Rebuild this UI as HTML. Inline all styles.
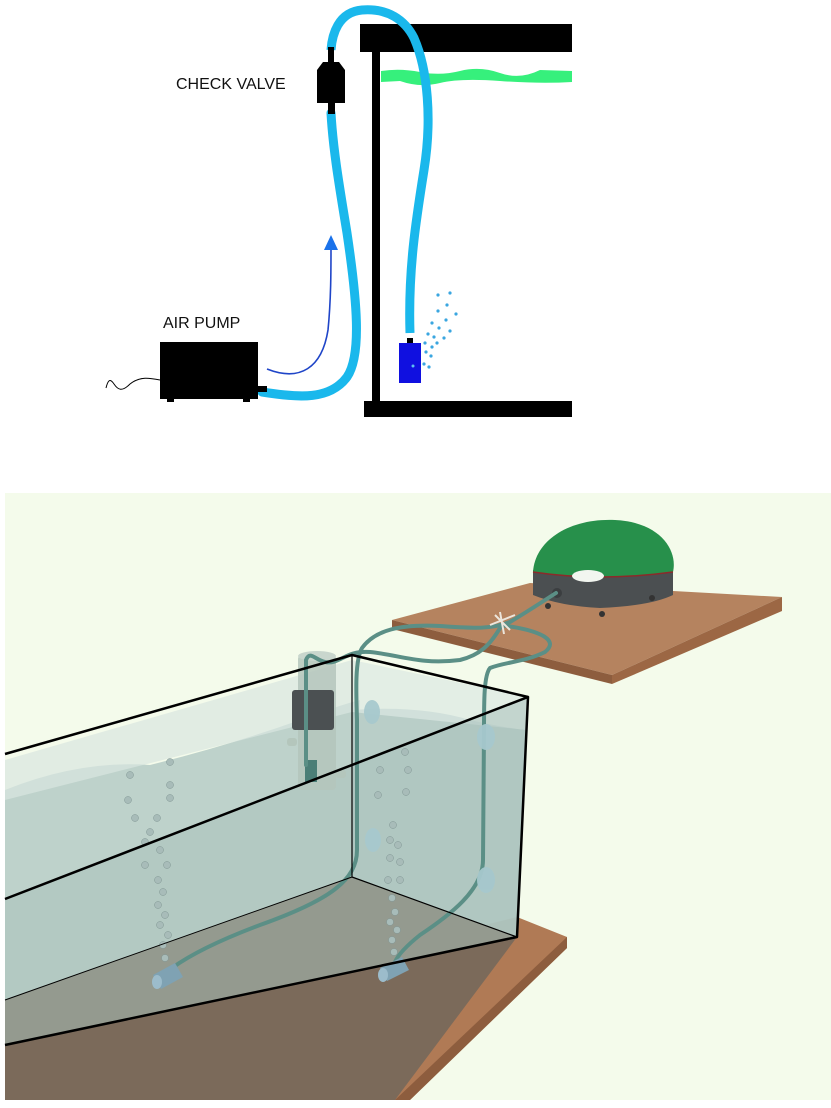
<!DOCTYPE html>
<html><head><meta charset="utf-8"><style>
html,body{margin:0;padding:0;background:#fff}
svg{display:block}
</style></head><body>
<svg width="831" height="1108" viewBox="0 0 831 1108" xmlns="http://www.w3.org/2000/svg">
<!-- TOP DIAGRAM -->
<rect x="360" y="24" width="212" height="28" fill="#000"/>
<rect x="372" y="48" width="8" height="357" fill="#000"/>
<rect x="364" y="401" width="208" height="16" fill="#000"/>
<path d="M381 71 Q400 68 420 72 T460 71 T500 73 T540 70 L572 71 L572 82 Q540 84 500 81 T440 83 T400 81 L381 82 Z" fill="#36f07c"/>
<!-- tube -->
<path d="M262 392 C300 398 330 400 347 377 C362 355 357 300 347 233 C340 190 333 150 331 113" fill="none" stroke="#1ab8ec" stroke-width="9" stroke-linecap="round"/>
<path d="M331 50 C332 35 338 12 362 10 C388 8 405 20 414 38 C428 70 432 120 424 170 C416 220 408 270 410 333" fill="none" stroke="#1ab8ec" stroke-width="9"/>
<!-- check valve -->
<rect x="328" y="47" width="6" height="16" fill="#000"/>
<path d="M323 62 L339 62 L345 70 L345 103 L317 103 L317 70 Z" fill="#000"/>
<rect x="328" y="102" width="7" height="12" fill="#000"/>
<text x="176" y="89" font-family="Liberation Sans, sans-serif" font-size="16" fill="#111">CHECK VALVE</text>
<!-- air pump -->
<rect x="160" y="342" width="98" height="57" fill="#000"/>
<rect x="167" y="398" width="7" height="4" fill="#000"/>
<rect x="243" y="398" width="7" height="4" fill="#000"/>
<rect x="257" y="386" width="10" height="6" fill="#000"/>
<path d="M160 380 C150 378 140 376 130 384 C122 392 118 390 114 384 C110 378 108 380 106 388" fill="none" stroke="#000" stroke-width="1"/>
<text x="163" y="328" font-family="Liberation Sans, sans-serif" font-size="16" fill="#111">AIR PUMP</text>
<!-- arrow -->
<path d="M267 369 C300 382 322 368 328 330 C331 300 331 270 331 248" fill="none" stroke="#1f45c8" stroke-width="1.6"/>
<path d="M331 235 L324 250 L338 250 Z" fill="#1a72ea"/>
<!-- airstone -->
<rect x="407" y="338" width="6" height="6" fill="#000"/>
<rect x="399" y="343" width="22" height="40" fill="#1010e0"/>
<circle cx="413" cy="366" r="1.5" fill="#5cc0f0"/>
<g fill="#3aa6e0">
<circle cx="438" cy="295" r="1.6"/><circle cx="450" cy="293" r="1.6"/><circle cx="447" cy="305" r="1.6"/><circle cx="438" cy="311" r="1.6"/><circle cx="456" cy="314" r="1.6"/><circle cx="432" cy="323" r="1.6"/><circle cx="446" cy="320" r="1.6"/><circle cx="439" cy="328" r="1.6"/><circle cx="450" cy="331" r="1.6"/><circle cx="428" cy="334" r="1.6"/><circle cx="434" cy="337" r="1.6"/><circle cx="444" cy="338" r="1.6"/><circle cx="425" cy="343" r="1.6"/><circle cx="432" cy="347" r="1.6"/><circle cx="437" cy="343" r="1.6"/><circle cx="426" cy="352" r="1.6"/><circle cx="431" cy="356" r="1.6"/><circle cx="424" cy="364" r="1.6"/><circle cx="429" cy="367" r="1.6"/>
</g>

<!-- BOTTOM ILLUSTRATION -->
<rect x="5" y="493" width="826" height="607" fill="#f4fbeb"/>
<!-- outer floor board -->
<path d="M5 1045 L517 917 L567 937 L567 948 L410 1100 L5 1100 Z" fill="#b07a55"/>
<path d="M567 937 L567 948 L410 1100 L395 1100 Z" fill="#8d5d3e"/>
<!-- tank floor -->
<path d="M5 1000 L352 877 L517 937 L395 1100 L5 1100 Z" fill="#7b6a5a"/>
<!-- water back walls -->
<path d="M5 790 Q80 760 150 765 Q230 745 300 720 Q340 705 360 700 L352 877 L5 1000 Z" fill="#b8cdc8" opacity="0.9"/>
<path d="M352 710 Q420 705 470 720 Q505 728 527 730 L517 937 L352 877 Z" fill="#b3c9c4" opacity="0.9"/>
<path d="M5 760 L352 660 L352 712 L5 800 Z" fill="#d8e6df" opacity="0.7"/>
<path d="M352 660 L528 697 L527 730 L352 712 Z" fill="#dce8e2" opacity="0.7"/>
<!-- front face water -->
<path d="M5 899 L528 697 L517 937 L5 1045 Z" fill="#a9c1bc" opacity="0.55"/>
<!-- filter -->
<rect x="298" y="655" width="38" height="135" rx="4" fill="#b4c6bc" opacity="0.85"/>
<ellipse cx="317" cy="656" rx="19" ry="5" fill="#c9d6cd"/>
<rect x="292" y="690" width="42" height="40" rx="3" fill="#4b5052"/>
<rect x="305" y="760" width="12" height="22" fill="#4b7e77"/>
<rect x="287" y="738" width="10" height="8" rx="3" fill="#b4c6bc"/>
<rect x="336" y="770" width="10" height="8" rx="3" fill="#b4c6bc"/>
<!-- bubbles -->
<g fill="#a8bcb9" stroke="#7f9592" stroke-width="0.5">
<circle cx="170" cy="762" r="3.5"/><circle cx="130" cy="775" r="3.5"/><circle cx="170" cy="785" r="3.5"/><circle cx="128" cy="800" r="3.5"/><circle cx="170" cy="798" r="3.5"/><circle cx="135" cy="818" r="3.5"/><circle cx="157" cy="818" r="3.5"/><circle cx="150" cy="832" r="3.5"/><circle cx="145" cy="842" r="3.5"/><circle cx="160" cy="850" r="3.5"/><circle cx="145" cy="865" r="3.5"/><circle cx="167" cy="865" r="3.5"/><circle cx="158" cy="880" r="3.5"/><circle cx="163" cy="892" r="3.5"/><circle cx="158" cy="905" r="3.5"/><circle cx="165" cy="915" r="3.5"/><circle cx="160" cy="925" r="3.5"/><circle cx="168" cy="935" r="3.5"/><circle cx="163" cy="945" r="3.5"/><circle cx="165" cy="958" r="3.5"/>
<circle cx="405" cy="752" r="3.5"/><circle cx="380" cy="770" r="3.5"/><circle cx="408" cy="770" r="3.5"/><circle cx="378" cy="795" r="3.5"/><circle cx="406" cy="792" r="3.5"/><circle cx="393" cy="825" r="3.5"/><circle cx="390" cy="840" r="3.5"/><circle cx="398" cy="845" r="3.5"/><circle cx="390" cy="858" r="3.5"/><circle cx="400" cy="862" r="3.5"/><circle cx="388" cy="880" r="3.5"/><circle cx="400" cy="880" r="3.5"/><circle cx="392" cy="898" r="3.5"/><circle cx="395" cy="912" r="3.5"/><circle cx="390" cy="922" r="3.5"/><circle cx="397" cy="930" r="3.5"/><circle cx="392" cy="940" r="3.5"/><circle cx="394" cy="952" r="3.5"/>
</g>
<!-- pump board -->
<path d="M392 620 L530 583 L782 597 L612 675 Z" fill="#b5835f"/>
<path d="M392 620 L612 675 L612 684 L392 629 Z" fill="#8d5d3e"/>
<path d="M612 675 L782 597 L782 611 L612 684 Z" fill="#9c6744"/>
<!-- pump -->
<path d="M533 570 L533 595 Q560 606 600 608 Q650 606 673 595 L673 570 Z" fill="#4b4f51"/>
<circle cx="548" cy="606" r="3" fill="#333"/><circle cx="602" cy="614" r="3" fill="#333"/><circle cx="652" cy="598" r="3" fill="#333"/>
<path d="M533 572 C535 540 570 518 615 520 C660 522 678 550 673 572 Q600 582 533 572 Z" fill="#27904b"/>
<path d="M533 572 Q600 582 673 572" fill="none" stroke="#8c2a2a" stroke-width="1.5"/>
<ellipse cx="588" cy="576" rx="16" ry="6" fill="#f2f6f0"/>
<circle cx="557" cy="593" r="5" fill="#3b3e40"/>
<!-- tubing -->
<g fill="none" stroke="#5b8f86" stroke-width="4" stroke-linecap="round">
<path d="M556 593 C545 600 530 610 510 622 C490 630 470 628 440 626 C400 624 375 630 362 648 C355 660 356 690 357 720 L357 850 C357 880 330 900 260 925 C220 940 190 955 172 968"/>
<path d="M500 625 C540 630 560 640 545 652 C525 662 505 662 490 668 C484 675 484 700 484 730 L483 860 C483 890 450 915 420 935 C405 947 398 955 395 962"/>
<path d="M500 628 C490 645 480 655 460 660 C420 665 400 655 370 652 C345 650 340 665 325 662 C315 660 310 650 306 660 L306 765"/>
</g>
<g stroke="#ece6dc" stroke-width="2"><path d="M495 615 L510 630 M490 625 L515 615 M500 612 L504 634"/></g>
<!-- suction cups -->
<g fill="#a6c8cd" opacity="0.95">
<ellipse cx="372" cy="712" rx="8" ry="12"/><ellipse cx="373" cy="840" rx="8" ry="12"/><ellipse cx="486" cy="737" rx="9" ry="13"/><ellipse cx="486" cy="880" rx="9" ry="13"/>
</g>
<!-- airstones -->
<g>
<path d="M153 975 L175 963 L183 977 L161 989 Z" fill="#7fa2b3"/><ellipse cx="157" cy="982" rx="5" ry="7" fill="#9cbccb"/>
<path d="M380 968 L402 957 L409 970 L387 981 Z" fill="#7fa2b3"/><ellipse cx="383" cy="975" rx="5" ry="7" fill="#9cbccb"/>
</g>
<!-- tank edges -->
<g stroke="#000" fill="none" stroke-linejoin="round">
<path d="M5 754 L352 655 L528 697" stroke-width="2.5"/>
<path d="M352 655 L352 877 L517 937" stroke-width="1.2"/>
<path d="M5 1000 L352 877" stroke-width="1"/>
<path d="M5 899 L528 697 L517 937 L5 1045" stroke-width="2.5"/>
</g>
</svg>
</body></html>
